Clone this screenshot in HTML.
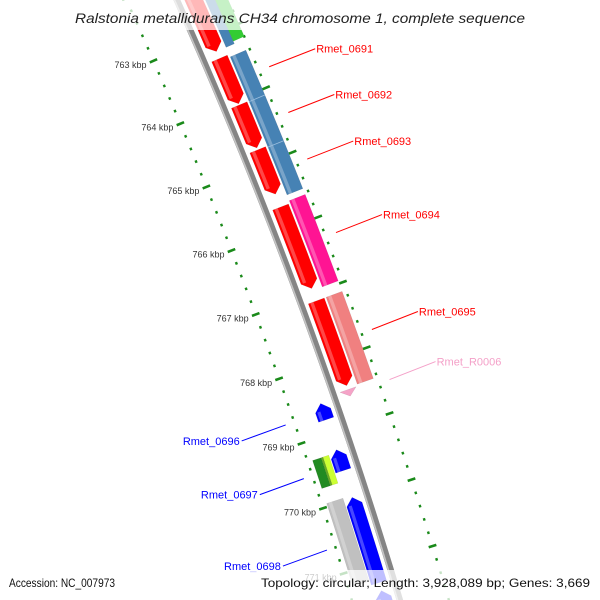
<!DOCTYPE html>
<html><head><meta charset="utf-8"><style>
html,body{margin:0;padding:0;background:#fff;width:600px;height:600px;overflow:hidden;}
svg{display:block;font-family:"Liberation Sans",sans-serif;}
</style></head><body>
<svg id="map" width="600" height="600" viewBox="0 0 600 600" xmlns="http://www.w3.org/2000/svg">
<rect x="0" y="0" width="600" height="600" fill="#fff"/>
<g id="ticks"></g>
<g id="backbone"></g>
<g id="genes"></g>
<g id="labels"></g>
<rect x="0" y="0" width="600" height="30" fill="#fff" fill-opacity="0.72"/>
<text x="75" y="23" textLength="450" lengthAdjust="spacingAndGlyphs" font-size="14" font-style="italic" fill="#222">Ralstonia metallidurans CH34 chromosome 1, complete sequence</text>
<rect x="0" y="570" width="600" height="30" fill="#fff" fill-opacity="0.75"/>
<text x="9" y="587" font-size="12" textLength="106" lengthAdjust="spacingAndGlyphs" fill="#111">Accession: NC_007973</text>
<text x="261" y="587" font-size="12" textLength="329" lengthAdjust="spacingAndGlyphs" fill="#111">Topology: circular; Length: 3,928,089 bp; Genes: 3,669</text>
</svg>
<script>
// ---- data ----
const geneNames   = ["top-red","Rmet_0692r","Rmet_0693r","Rmet_0694r","Rmet_0695r","Rmet_0696r","top-blue","top-green","Rmet_0691","Rmet_0692","Rmet_0693","Rmet_0694","Rmet_0695","Rmet_R0006","Rmet_0696","Rmet_0697b","Rmet_0698","next-blue","Rmet_0697","Rmet_0697m","Rmet_0697l","Rmet_0698g"];
const geneStart   = [762.0, 763.35, 764.08, 764.78, 765.67, 767.12, 762.0, 762.0, 763.39, 764.09, 764.80, 765.63, 767.12, 768.48, 768.54, 769.25, 769.98, 771.40, 769.29, 769.29, 769.29, 769.95];
const geneEnd     = [763.24, 764.06, 764.75, 765.47, 766.93, 768.42, 763.24, 763.20, 764.09, 764.80, 765.54, 766.96, 768.45, 768.58, 768.79, 769.57, 771.28, 772.20, 769.72, 769.72, 769.72, 771.22];
const geneStrand  = [1,1,1,1,1,1, 0,0,0,0,0,0,0, 1, -1,-1,-1,-1, 0,0,0,0];
const geneTrack   = ["ri","ri","ri","ri","ri","ri","ro1","ro2","ro","ro","ro","ro","ro","ri","li","li","li","li","lo1","lo2","lo3","lo"];
const geneColor   = ["#ff0000","#ff0000","#ff0000","#ff0000","#ff0000","#ff0000","#4682b4","#33cc33","#4682b4","#4682b4","#4682b4","#ff1493","#f08080","#f5a3c7","#0000ff","#0000ff","#0000ff","#0000ff","#228b22","#66aa22","#ccff33","#c0c0c0"];
const labelText   = ["Rmet_0691","Rmet_0692","Rmet_0693","Rmet_0694","Rmet_0695","Rmet_R0006","Rmet_0696","Rmet_0697","Rmet_0698"];
const labelKbp    = [763.74, 764.45, 765.17, 766.30, 767.78, 768.54, 768.67, 769.50, 770.60];
const labelSide   = [1,1,1,1,1,1,-1,-1,-1];
const labelColor  = ["#ff0000","#ff0000","#ff0000","#ff0000","#ff0000","#f4a0c8","#0000ff","#0000ff","#0000ff"];
const tickStart = 761.6, tickEnd = 772.4, tickStep = 0.2;

// ---- geometry ----
const CX=-4328, CY=2015, R=4935;
const tracks={ri:[4942,4959],ro:[4961,4978],ro1:[4961,4970],ro2:[4970,4982],li:[4912,4928],lo:[4894,4911],lo1:[4894,4903],lo2:[4903,4905],lo3:[4905,4911]};
const NS="http://www.w3.org/2000/svg";
function ang(k){return (-23.56+0.8014*(k-763))*Math.PI/180;}
function pt(r,k){const a=ang(k);return [CX+r*Math.cos(a),CY+r*Math.sin(a)];}
function mk(tag,attrs,parent){const e=document.createElementNS(NS,tag);for(const k in attrs)e.setAttribute(k,attrs[k]);parent.appendChild(e);return e;}
function arcPts(r,k0,k1,n){const p=[];for(let i=0;i<=n;i++)p.push(pt(r,k0+(k1-k0)*i/n));return p;}
function toStr(p){return p.map(q=>q[0].toFixed(2)+","+q[1].toFixed(2)).join(" ");}

// backbone
const bb=document.getElementById('backbone');
function arcPath(r,k0,k1){const p=arcPts(r,k0,k1,40);return "M"+p.map(q=>q[0].toFixed(2)+" "+q[1].toFixed(2)).join(" L");}
let e=mk('path',{d:arcPath(R,761.5,772.5),stroke:'#858585','stroke-width':6.5,fill:'none'},bb);


e=mk('path',{d:arcPath(R-2.2,761.5,772.5),stroke:'#c4c4c4','stroke-width':1.6,fill:'none'},bb);



// ticks
const tg=document.getElementById('ticks');
const rings=[4889,4982];
for(let k=tickStart;k<=tickEnd+1e-6;k+=tickStep){
  const kk=Math.round(k*10)/10;
  const major=Math.abs(kk-Math.round(kk))<1e-6;
  rings.forEach((rr)=>{
    const h=major?4:1.2;
    const a=pt(rr-h,kk),b=pt(rr+h,kk);
    const t=mk('line',{x1:a[0],y1:a[1],x2:b[0],y2:b[1],stroke:'#1a8a1a','stroke-width':2.6},tg);
    
    
  });
  if(major && kk>=763){
    const p=pt(4889,kk);
    const tx=mk('text',{x:(p[0]-7).toFixed(1),y:(p[1]+7).toFixed(1),'text-anchor':'end','font-size':9,fill:'#333'},tg);
    tx.textContent=Math.round(kk)+" kbp";
    
    
  }
}

// genes
const gg=document.getElementById('genes');
const AH=0.11;
for(let i=0;i<geneNames.length;i++){
  const [r0,r1]=tracks[geneTrack[i]];
  const s=geneStart[i], en=geneEnd[i], st=geneStrand[i], rm=(r0+r1)/2;
  let poly;
  if(st===1){
    const b=Math.max(s,en-AH);
    poly=arcPts(r0,s,b,6).concat([pt(rm,en)]).concat(arcPts(r1,s,b,6).reverse());
  }else if(st===-1){
    const b=Math.min(en,s+AH);
    poly=[pt(rm,s)].concat(arcPts(r0,b,en,6)).concat(arcPts(r1,b,en,6).reverse());
  }else{
    poly=arcPts(r0,s,en,6).concat(arcPts(r1,s,en,6).reverse());
  }
  const g=mk('polygon',{points:toStr(poly),fill:geneColor[i],stroke:'rgba(0,0,0,0.12)','stroke-width':0.5},gg);
  
  
  if(r1-r0>12){
    const a0=r0+(r1-r0)*0.12,a1=r0+(r1-r0)*0.32;
    const s2=st===-1?Math.min(en,s+AH):s, e2=st===1?Math.max(s,en-AH):en;
    const hp=arcPts(a0,s2,e2,6).concat(arcPts(a1,s2,e2,6).reverse());
    const h=mk('polygon',{points:toStr(hp),fill:'#fff','fill-opacity':0.28},gg);
    
    
  }
}
// block separators in outer blue track
[764.09,764.80].forEach(k=>{
  const a=pt(4961,k),b=pt(4978,k);
  const l=mk('line',{x1:a[0],y1:a[1],x2:b[0],y2:b[1],stroke:'#9cc0e0','stroke-width':0.8},gg);
  
  
});

// labels
const lg=document.getElementById('labels');
for(let i=0;i<labelText.length;i++){
  const side=labelSide[i];
  const p=pt(side>0?4993:4880,labelKbp[i]);
  const q=side>0?[p[0]+46,p[1]-18]:[p[0]-44,p[1]+16];
  const l=mk('line',{x1:p[0],y1:p[1],x2:q[0],y2:q[1],stroke:labelColor[i],'stroke-width':1},lg);
  
  
  const t=mk('text',{x:(side>0?q[0]+1:q[0]-2).toFixed(1),y:(q[1]+4).toFixed(1),'text-anchor':side>0?'start':'end','font-size':11,fill:labelColor[i]},lg);
  t.textContent=labelText[i];
  
  
}
</script>
</body></html>
